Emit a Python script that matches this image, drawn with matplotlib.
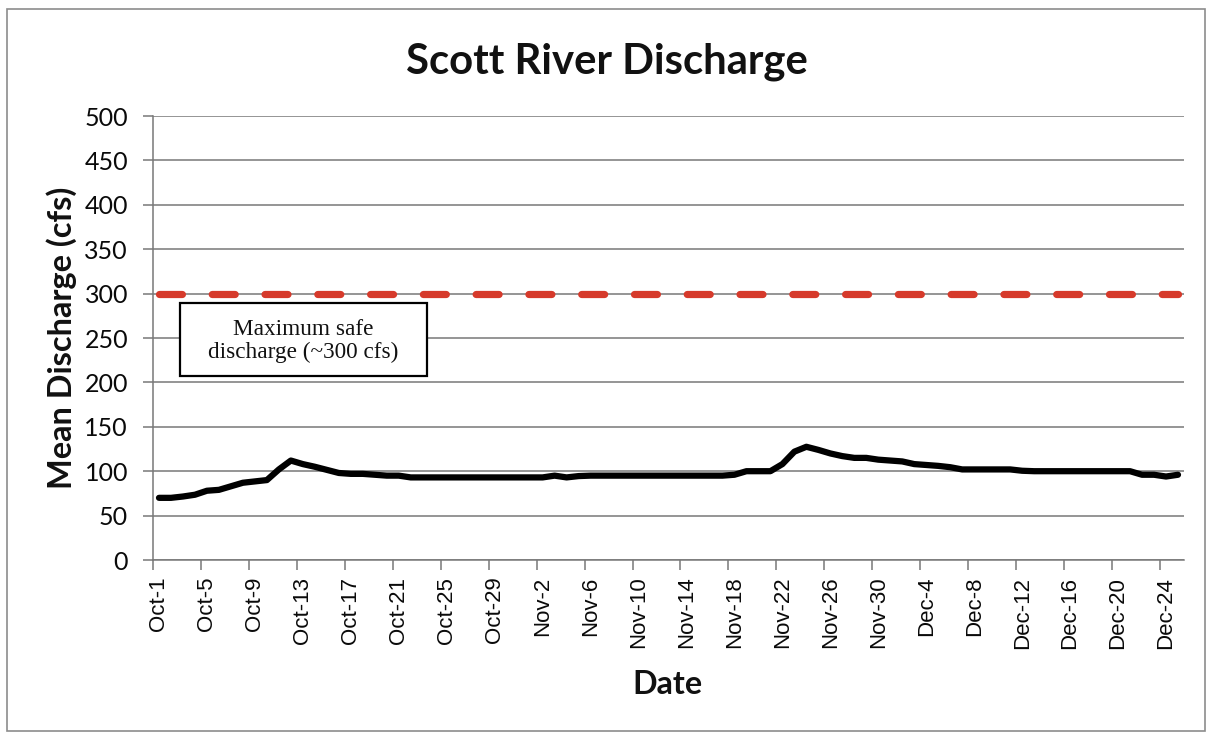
import matplotlib
matplotlib.use("Agg")
import matplotlib.pyplot as plt
from matplotlib.patches import Rectangle
import numpy as np
import pandas as pd

# Daily mean discharge, Oct 1 - Dec 25 (cfs)
dates = pd.date_range("2000-10-01", "2000-12-25", freq="D")
categories = [f"{d.strftime('%b')}-{d.day}" for d in dates]

discharge = [
    70, 70, 71.5, 73.5, 78, 79, 83, 87, 88.5, 90,
    102, 112, 108, 105, 101.5, 98, 97, 97, 96, 95,
    95, 93, 93, 93, 93, 93, 93, 93, 93, 93,
    93, 93, 93, 95, 93, 94.5, 95, 95, 95, 95,
    95, 95, 95, 95, 95, 95, 95, 95, 96, 100,
    100, 100, 108, 122, 127.5, 124, 120, 117, 115, 115,
    113, 112, 111, 108, 107, 106, 104.5, 102, 102, 102,
    102, 102, 100.5, 100, 100, 100, 100, 100, 100, 100,
    100, 100, 96, 96, 94, 96,
]
safe_limit = 300
limit_series = [safe_limit] * len(categories)

y_ticks = list(range(0, 501, 50))
label_step = 4

W, H = 1210, 734
plt.rcParams["lines.scale_dashes"] = False
fig = plt.figure(figsize=(W / 100, H / 100), dpi=100)
fig.patch.set_facecolor("white")

# thin frame around the whole chart area
fig.add_artist(Rectangle((7 / W, 1 - 731 / H), (1205 - 7) / W, (731 - 9) / H,
                         transform=fig.transFigure, fill=False,
                         edgecolor="#8c8c8c", linewidth=1.2))

ax = fig.add_axes([153 / W, 1 - 560 / H, (1184 - 153) / W, (560 - 116) / H])
x = np.arange(len(categories))

grid_col = "#787878"
ax.set_ylim(0, 500)
ax.set_xlim(-0.5, len(categories) - 0.5)
ax.set_yticks(y_ticks)
ax.yaxis.grid(True, color=grid_col, linewidth=1.1)
ax.set_axisbelow(True)

ax.plot(x, limit_series, color="#d63a2b", linewidth=5.2,
        dashes=(16.5, 21.5), dash_capstyle="round", solid_capstyle="round")
ax.plot(x, discharge, color="black", linewidth=4.5,
        solid_joinstyle="round", solid_capstyle="round")

for side in ("top", "right"):
    ax.spines[side].set_visible(False)
for side in ("left", "bottom"):
    ax.spines[side].set_color(grid_col)
    ax.spines[side].set_linewidth(1.1)

# category labels every 4 days, tick marks between categories
ax.set_xticks(x[::label_step])
ax.set_xticklabels(categories[::label_step], rotation=90,
                   fontfamily="Liberation Sans", fontsize=16, color="#0a0a0a")
ax.set_xticks(np.arange(-0.5, len(categories), label_step), minor=True)
ax.tick_params(axis="x", which="major", length=0, pad=12)
ax.tick_params(axis="x", which="minor", length=7, width=1.1, color=grid_col)
ax.tick_params(axis="y", length=7, width=1.1, color=grid_col, pad=11)
for lab in ax.get_yticklabels():
    lab.set_fontfamily("Lato")
    lab.set_fontsize(18)
    lab.set_color("#0a0a0a")

title = fig.text(607 / W, 1 - 62 / H, "Scott River Discharge", ha="center",
                 va="center", fontfamily="Lato", fontweight="bold",
                 fontsize=26, color="#111111")
ylab = fig.text(62 / W, 1 - 338 / H, "Mean Discharge (cfs)", rotation=90,
                ha="center", va="center", fontfamily="Lato",
                fontweight="bold", fontsize=22, color="#111111")
xlab = fig.text(667 / W, 1 - 684 / H, "Date", ha="center", va="center",
                fontfamily="Lato", fontweight="bold", fontsize=22,
                color="#111111")

# annotation box for the safety threshold
bx0, bx1 = (180 - 153) / 1031, (427 - 153) / 1031
by0, by1 = (560 - 376) / 444, (560 - 303) / 444
ax.add_patch(Rectangle((bx0, by0), bx1 - bx0, by1 - by0, transform=ax.transAxes,
                       facecolor="white", edgecolor="black", linewidth=1.6,
                       zorder=5))
box_txt = ax.text((bx0 + bx1) / 2, (by0 + by1) / 2 - 0.004,
                  "Maximum safe\ndischarge (~300 cfs)", transform=ax.transAxes,
                  ha="center", va="center", fontfamily="Liberation Serif",
                  fontsize=16, linespacing=1.1, zorder=6, color="#111111")

# scale heading texts to their laid-out extents
renderer = fig.canvas.get_renderer()


def fit(artist, target_px, horizontal=True):
    bb = artist.get_window_extent(renderer)
    size = bb.width if horizontal else bb.height
    artist.set_fontsize(artist.get_fontsize() * target_px / size)


fit(title, 403)
fit(ylab, 302, horizontal=False)
fit(xlab, 70)
fit(box_txt, 190)

fig.savefig("out.png", dpi=100, facecolor="white")
